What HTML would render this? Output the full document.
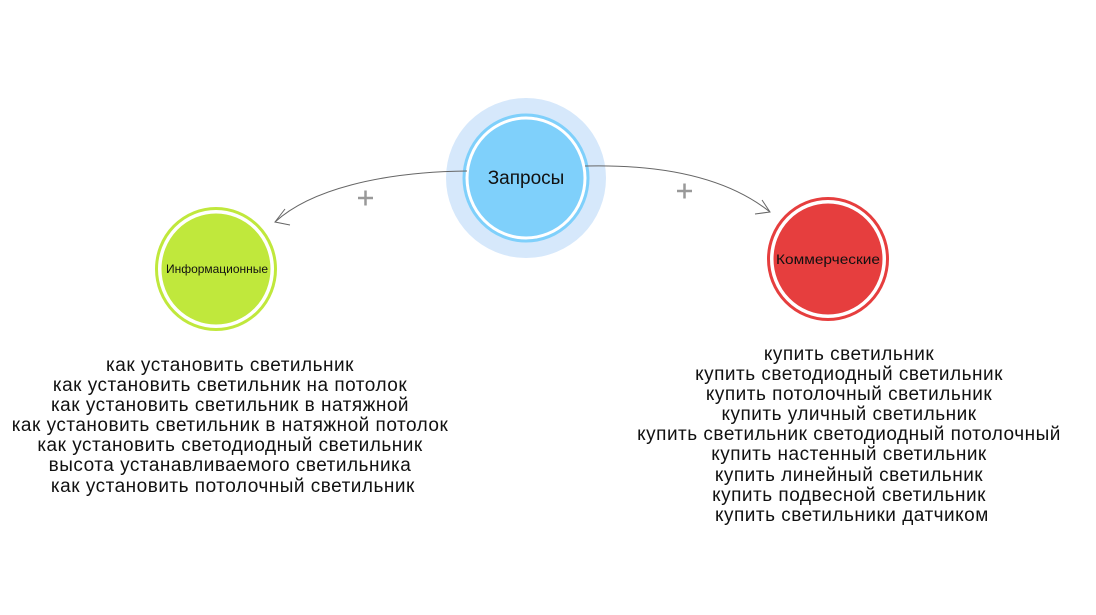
<!DOCTYPE html>
<html><head><meta charset="utf-8"><style>
body{margin:0;width:1096px;height:615px;background:#fff;position:relative;overflow:hidden;font-family:"Liberation Sans",sans-serif;}
.t{position:absolute;text-align:center;font-size:19px;letter-spacing:0.5px;line-height:20.1px;color:#111;white-space:nowrap}
</style></head><body>
<svg width="1096" height="615" style="position:absolute;left:0;top:0">
<ellipse cx="526" cy="178" rx="80" ry="80" fill="#d6e8fb"/>
<ellipse cx="526" cy="178" rx="59" ry="60" fill="#7fd0fb" stroke="#fff" stroke-width="3"/>
<ellipse cx="526" cy="178" rx="62" ry="63" fill="none" stroke="#7fd0fb" stroke-width="3"/>
<ellipse cx="216" cy="269" rx="56" ry="57" fill="#c0e83c" stroke="#fff" stroke-width="3"/>
<ellipse cx="216" cy="269" rx="59.5" ry="60.5" fill="none" stroke="#c0e83c" stroke-width="3"/>
<ellipse cx="828" cy="259" rx="56" ry="57" fill="#e63e3e" stroke="#fff" stroke-width="3"/>
<ellipse cx="828" cy="259" rx="59.5" ry="60.5" fill="none" stroke="#e63e3e" stroke-width="3"/>
<path d="M467 171 C380 172 310 190 275 222" fill="none" stroke="#666" stroke-width="1"/>
<path d="M285 209 L275 222 L290 225" fill="none" stroke="#666" stroke-width="1"/>
<path d="M585 166 C670 164 730 180 770 212" fill="none" stroke="#666" stroke-width="1"/>
<path d="M762 200 L770 212 L755 214" fill="none" stroke="#666" stroke-width="1"/>
<path d="M358 198 H373 M365.5 190.5 V205.5" stroke="#999" stroke-width="2.5"/>
<path d="M677 191 H692 M684.5 183.5 V198.5" stroke="#999" stroke-width="2.5"/>
<text x="526" y="184" font-size="19" fill="#111" text-anchor="middle" font-family="Liberation Sans">Запросы</text>
<text x="217" y="273" font-size="12" fill="#111" text-anchor="middle" font-family="Liberation Sans" textLength="102" lengthAdjust="spacingAndGlyphs">Информационные</text>
<text x="828" y="264" font-size="14" fill="#111" text-anchor="middle" font-family="Liberation Sans" textLength="104" lengthAdjust="spacingAndGlyphs">Коммерческие</text>
</svg>
<div class="t" style="left:0;width:460px;top:356px">как установить светильник<br>как установить светильник на потолок<br>как установить светильник в натяжной<br>как установить светильник в натяжной потолок<br>как установить светодиодный светильник<br>высота устанавливаемого светильника<br>&nbsp;как установить потолочный светильник</div>
<div class="t" style="left:619px;width:460px;top:345px">купить светильник<br>купить светодиодный светильник<br>купить потолочный светильник<br>купить уличный светильник<br>купить светильник светодиодный потолочный<br>купить настенный светильник<br>купить линейный светильник<br>купить подвесной светильник<br>&nbsp;купить светильники датчиком</div>
</body></html>
